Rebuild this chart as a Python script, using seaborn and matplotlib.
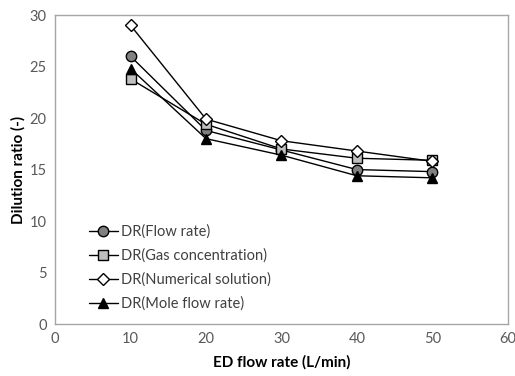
import matplotlib
matplotlib.use("Agg")
import matplotlib.pyplot as plt
import seaborn as sns
import pandas as pd

flow = [10, 20, 30, 40, 50]
dr_flow_rate = [26.0, 18.8, 16.9, 15.0, 14.8]
dr_gas_conc = [23.8, 19.4, 17.0, 16.1, 15.9]
dr_numerical = [29.0, 19.9, 17.8, 16.8, 15.8]
dr_mole_flow = [24.8, 18.0, 16.4, 14.4, 14.2]
labels = ["DR(Flow rate)", "DR(Gas concentration)", "DR(Numerical solution)", "DR(Mole flow rate)"]

sns.set_theme(style="white")
plt.rcParams['font.family'] = ['Lato', 'DejaVu Sans']

fig = plt.figure(figsize=(5.15, 3.76), dpi=100)
ax = fig.add_axes([0.107, 0.138, 0.879, 0.822])

styles = [("o", "#808080"), ("s", "#BFBFBF"), ("D", "white"), ("^", "black")]
sizes = [7.5, 7, 6, 7.5]
for vals, lab, (m, fc), ms in zip([dr_flow_rate, dr_gas_conc, dr_numerical, dr_mole_flow], labels, styles, sizes):
    df = pd.DataFrame({"x": flow, "y": vals})
    sns.lineplot(data=df, x="x", y="y", ax=ax, color="black", linewidth=1.0,
                 marker=m, markersize=ms, markerfacecolor=fc, markeredgecolor="black",
                 markeredgewidth=1.0, label=lab)

ax.set_xlim(0, 60)
ax.set_ylim(0, 30)
ax.set_xticks([0, 10, 20, 30, 40, 50, 60])
ax.set_yticks([0, 5, 10, 15, 20, 25, 30])
ax.tick_params(axis="both", labelsize=10.5, colors="#595959", length=0, pad=6)
for s in ax.spines.values():
    s.set_color("#A6A6A6")
    s.set_linewidth(1.0)
ax.set_xlabel("ED flow rate (L/min)", fontsize=11, fontweight="bold", color="black", labelpad=6)
ax.set_ylabel("Dilution ratio (-)", fontsize=11, fontweight="bold", color="black", labelpad=3)

leg = ax.legend(loc="lower left", bbox_to_anchor=(0.045, 0.0), frameon=False, fontsize=10.5,
                handlelength=2.0, handletextpad=0.2, labelspacing=0.66, labelcolor="#404040")

fig.savefig("out.png", dpi=100)
